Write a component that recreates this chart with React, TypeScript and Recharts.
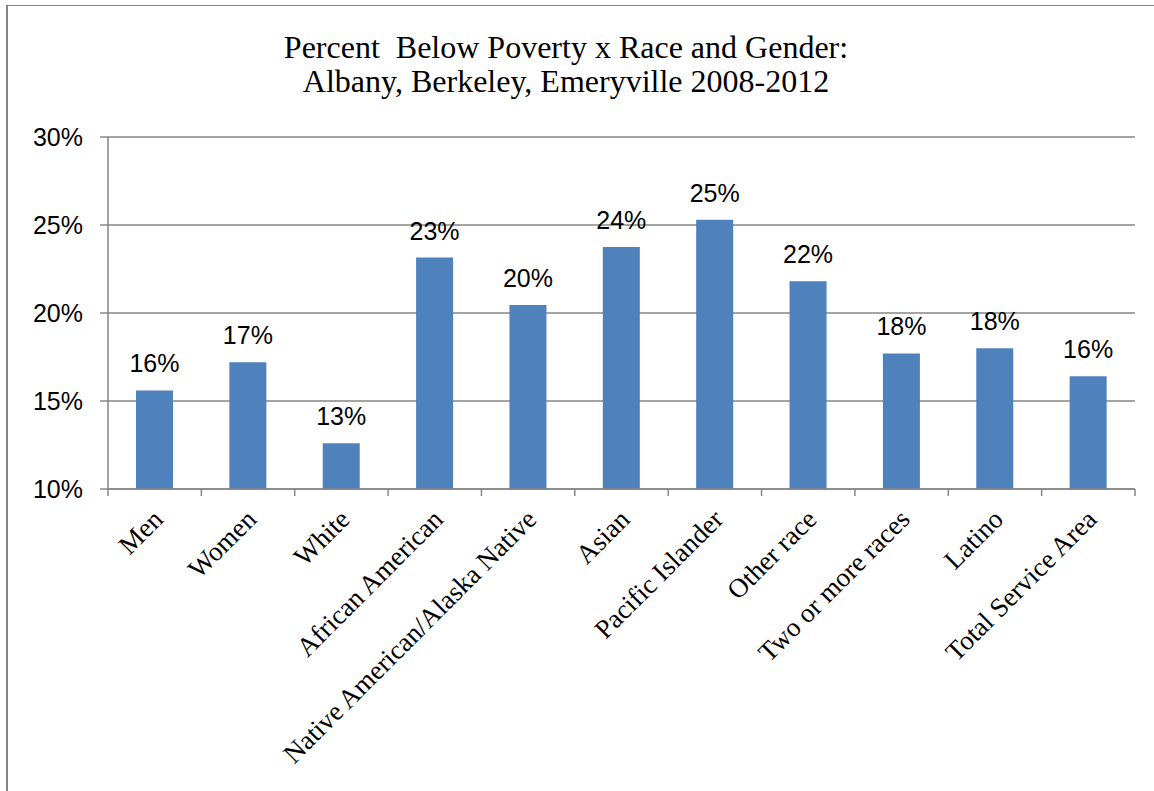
import { BarChart, Bar, XAxis, YAxis, CartesianGrid, LabelList } from "recharts";

const categories = [
  "Men",
  "Women",
  "White",
  "African American",
  "Native American/Alaska Native",
  "Asian",
  "Pacific Islander",
  "Other race",
  "Two or more races",
  "Latino",
  "Total Service Area",
];

const povertyPct = [15.6, 17.2, 12.6, 23.15, 20.45, 23.75, 25.3, 21.8, 17.7, 18.0, 16.4];

const yTicks = [10, 15, 20, 25, 30];

const titleLines = ["Percent  Below Poverty x Race and Gender:", "Albany, Berkeley, Emeryville 2008-2012"];

const data = categories.map((name, i) => ({ name, value: povertyPct[i] }));

const GRAY = "#868686";
const BLUE = "#4F81BD";

// category label rotated -45deg, plus the small tick marks on the band edges
function CategoryTick(props: any) {
  const { x, y, payload, index, visibleTicksCount } = props;
  const half = payload && typeof payload.offset === "number" ? payload.offset : 0;
  const ty = y + 14;
  const isLast = index === visibleTicksCount - 1;
  return (
    <g>
      {half > 0 && (
        <line x1={x - half} x2={x - half} y1={y - 8} y2={y - 1} stroke={GRAY} strokeWidth={1.5} />
      )}
      {half > 0 && isLast && (
        <line x1={x + half} x2={x + half} y1={y - 8} y2={y - 1} stroke={GRAY} strokeWidth={1.5} />
      )}
      <text
        x={x}
        y={ty}
        transform={`rotate(-45, ${x}, ${ty})`}
        textAnchor="end"
        dy={14}
        fontFamily="'Liberation Serif', 'Times New Roman', serif"
        fontSize={27}
        fill="#000"
      >
        {payload.value}
      </text>
    </g>
  );
}

export default function App() {
  return (
    <div
      style={{
        position: "absolute",
        left: 6,
        top: 5,
        width: 1160,
        height: 800,
        borderLeft: `2px solid ${GRAY}`,
        borderTop: `1px solid ${GRAY}`,
        background: "#fff",
        overflow: "hidden",
      }}
    >
      <div
        style={{
          position: "absolute",
          left: 0,
          top: 24,
          width: 1116,
          textAlign: "center",
          fontFamily: "'Liberation Serif', 'Times New Roman', serif",
          fontSize: 32,
          lineHeight: "34px",
          color: "#000",
        }}
      >
        {titleLines.map((t) => (
          <div key={t} style={{ whiteSpace: "pre" }}>
            {t}
          </div>
        ))}
      </div>
      <BarChart
        width={1146}
        height={785}
        data={data}
        margin={{ top: 131, right: 19, bottom: 22, left: 20 }}
        barSize={37}
      >
        <CartesianGrid vertical={false} stroke={GRAY} strokeWidth={1.5} />
        <XAxis
          dataKey="name"
          interval={0}
          height={280}
          axisLine={{ stroke: GRAY, strokeWidth: 1.5 }}
          tickLine={false}
          tickSize={8}
          tickMargin={0}
          tick={<CategoryTick />}
        />
        <YAxis
          domain={[10, 30]}
          ticks={yTicks}
          width={80}
          axisLine={{ stroke: GRAY, strokeWidth: 1.5 }}
          tickLine={{ stroke: GRAY, strokeWidth: 1.5 }}
          tickSize={8}
          tickMargin={17}
          tickFormatter={(v: number) => `${v}%`}
          tick={{ fill: "#000", fontSize: 25, fontFamily: "'Liberation Sans', Arial, sans-serif" }}
        />
        <Bar dataKey="value" fill={BLUE} isAnimationActive={false}>
          <LabelList
            dataKey="value"
            position="top"
            offset={18}
            formatter={(v: any) => `${Math.round(Number(v))}%`}
            style={{ fill: "#000", fontSize: 25, fontFamily: "'Liberation Sans', Arial, sans-serif" }}
          />
        </Bar>
      </BarChart>
    </div>
  );
}
